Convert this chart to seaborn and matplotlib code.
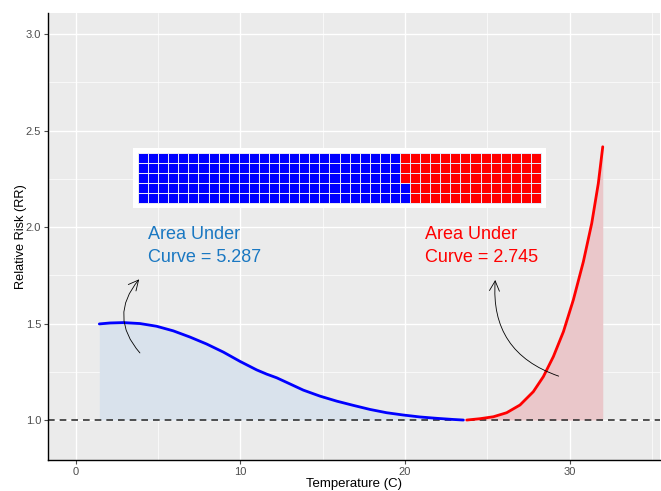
import numpy as np
import pandas as pd
import matplotlib
matplotlib.use("Agg")
import matplotlib.pyplot as plt
from matplotlib.colors import ListedColormap
from matplotlib.ticker import MultipleLocator
import seaborn as sns

# ---- data ----
cold_temp = [1.42, 2.07, 2.88, 3.89, 4.9, 5.92, 6.93, 7.94, 8.96, 9.97, 10.98, 11.59,
             12.2, 12.81, 13.82, 14.83, 15.85, 16.86, 17.87, 18.88, 19.9, 20.91,
             21.92, 22.94, 23.55]
cold_rr = [1.498, 1.503, 1.505, 1.500, 1.486, 1.462, 1.430, 1.394, 1.352, 1.304, 1.260,
           1.238, 1.219, 1.195, 1.155, 1.124, 1.098, 1.076, 1.055, 1.038, 1.026, 1.016,
           1.009, 1.003, 1.000]
heat_temp = [23.75, 24.56, 25.37, 26.18, 26.99, 27.8, 28.41, 29.02, 29.63, 30.23, 30.84,
             31.35, 31.75, 32.02]
heat_rr = [1.000, 1.007, 1.017, 1.038, 1.078, 1.147, 1.225, 1.329, 1.458, 1.622, 1.820,
           2.019, 2.226, 2.416]
area_cold = 5.287
area_heat = 2.745
n_rows, n_cols = 5, 40
x_ticks = [0, 10, 20, 30]
y_ticks = [1.0, 1.5, 2.0, 2.5, 3.0]

cold = pd.DataFrame({"Temperature": cold_temp, "RR": cold_rr})
heat = pd.DataFrame({"Temperature": heat_temp, "RR": heat_rr})

sns.set_theme(style="darkgrid", rc={
    "axes.facecolor": "#ebebeb",
    "grid.color": "white",
    "axes.edgecolor": "black",
})
plt.rcParams["font.family"] = ["Liberation Sans", "DejaVu Sans"]

fig = plt.figure(figsize=(6.61, 4.91), dpi=100)
ax = fig.add_axes([48 / 661, 31 / 491, 612 / 661, 447 / 491])

ax.fill_between(cold["Temperature"], 1.0, cold["RR"], color="#d9e2ec", lw=0)
ax.fill_between(heat["Temperature"], 1.0, heat["RR"], color="#eac7ca", lw=0)
ax.axhline(1.0, color="#333333", lw=1.2, ls=(0, (4, 3)))
sns.lineplot(data=cold, x="Temperature", y="RR", color="#0000ff", lw=2, ax=ax)
sns.lineplot(data=heat, x="Temperature", y="RR", color="#ff0000", lw=2, ax=ax)

ax.set_xlim(-1.7, 35.5)
ax.set_ylim(0.793, 3.109)
ax.xaxis.set_minor_locator(MultipleLocator(5))
ax.yaxis.set_minor_locator(MultipleLocator(0.25))
ax.set_xticks(x_ticks)
ax.set_yticks(y_ticks)
ax.set_yticklabels([f"{v:.1f}" for v in y_ticks])
ax.grid(which="major", color="white", lw=1.0)
ax.grid(which="minor", color="white", lw=0.5)
for s in ["top", "right"]:
    ax.spines[s].set_visible(False)
for s in ["left", "bottom"]:
    ax.spines[s].set_color("black")
    ax.spines[s].set_linewidth(1.0)
ax.tick_params(axis="both", which="major", length=3, width=0.8, color="#4d4d4d",
               labelcolor="#4d4d4d", labelsize=8, bottom=True, left=True, pad=2)
ax.tick_params(which="minor", length=0)
ax.set_xlabel("Temperature (C)", fontsize=9.5, color="black", labelpad=0.5)
ax.set_ylabel("Relative Risk (RR)", fontsize=9.2, color="black", labelpad=-0.8)

# annotations
ax.text(4.4, 2.004, f"Area Under\nCurve = {area_cold}", color="#1a78c2", fontsize=13,
        va="top", ha="left", linespacing=1.45)
ax.text(21.2, 2.004, f"Area Under\nCurve = {area_heat}", color="#ff0000", fontsize=13,
        va="top", ha="left", linespacing=1.45)
ax.annotate("", xy=(3.95, 1.74), xytext=(4.0, 1.337),
            arrowprops=dict(arrowstyle="->,head_length=0.6,head_width=0.3", color="black", lw=0.6,
                            connectionstyle="arc3,rad=-0.45"))
ax.annotate("", xy=(25.5, 1.74), xytext=(29.5, 1.223),
            arrowprops=dict(arrowstyle="->,head_length=0.6,head_width=0.3", color="black", lw=0.6,
                            connectionstyle="arc3,rad=-0.4"))

# waffle inset
n_cells = n_rows * n_cols
n_blue = int(round(n_cells * area_cold / (area_cold + area_heat)))
grid = np.ones((n_rows, n_cols))
for c in range(n_cols):
    for r in range(n_rows):
        idx = c * n_rows + r
        if idx < n_blue:
            grid[n_rows - 1 - r, c] = 0
wax = fig.add_axes([133 / 661, (491 - 208) / 491, 413 / 661, 60 / 491])
sns.heatmap(grid, cmap=ListedColormap(["#0000ff", "#ff0000"]), vmin=0, vmax=1,
            cbar=False, linewidths=0.5, linecolor="#e6e6f5", ax=wax)
wax.set_facecolor("white")
wax.set_xlim(-0.5, n_cols + 0.5)
wax.set_ylim(n_rows + 0.5, -0.5)
wax.set_xticks([])
wax.set_yticks([])
wax.grid(False)
for s in wax.spines.values():
    s.set_visible(False)

fig.savefig("out.png", dpi=100)
